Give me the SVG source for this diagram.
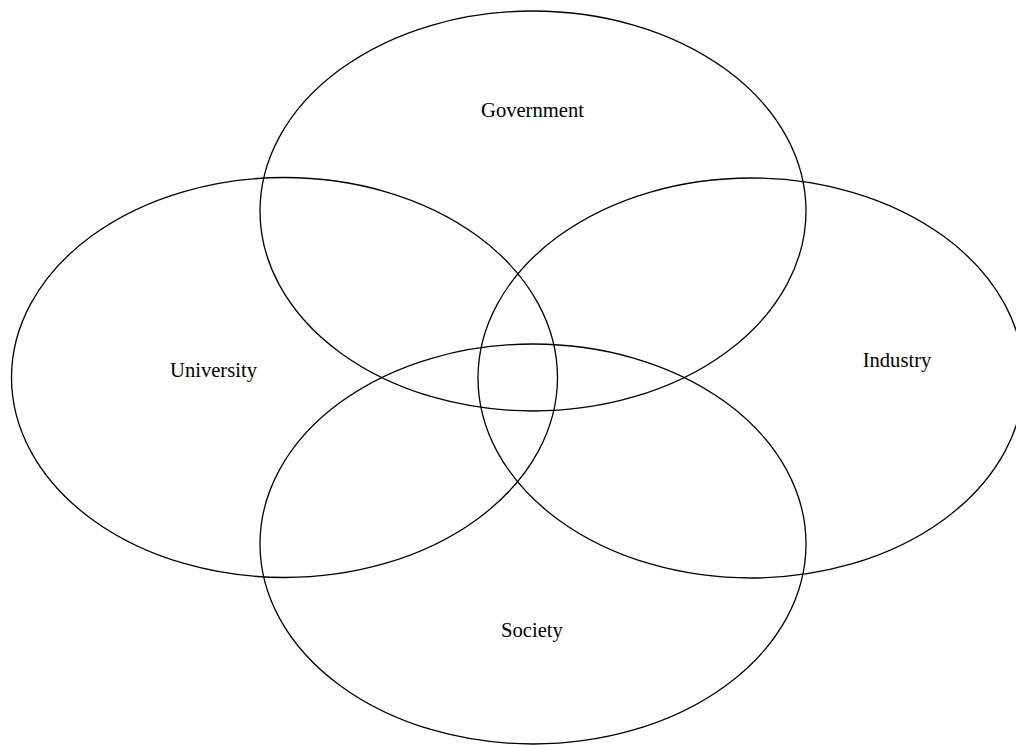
<svg xmlns="http://www.w3.org/2000/svg" width="1016" height="745" viewBox="0 0 1016 745">
<style>
.e{fill:none;stroke:#000;stroke-width:1.3}
.t{font-family:"Liberation Serif","Times New Roman",serif;font-size:20.6px;fill:#000;text-anchor:middle}
</style>
<rect width="1016" height="745" fill="#fff"/>
<g id="government"><ellipse class="e" cx="533" cy="211" rx="273" ry="200"/><text class="t" x="532.5" y="117">Government</text></g>
<g id="university"><ellipse class="e" cx="284.5" cy="377.5" rx="273" ry="200"/><text class="t" x="213.5" y="377">University</text></g>
<g id="industry"><ellipse class="e" cx="751" cy="378" rx="273" ry="200"/><text class="t" x="897" y="367">Industry</text></g>
<g id="society"><ellipse class="e" cx="533" cy="544" rx="273" ry="200"/><text class="t" x="532" y="637">Society</text></g>
<g id="connectors"/>
</svg>
